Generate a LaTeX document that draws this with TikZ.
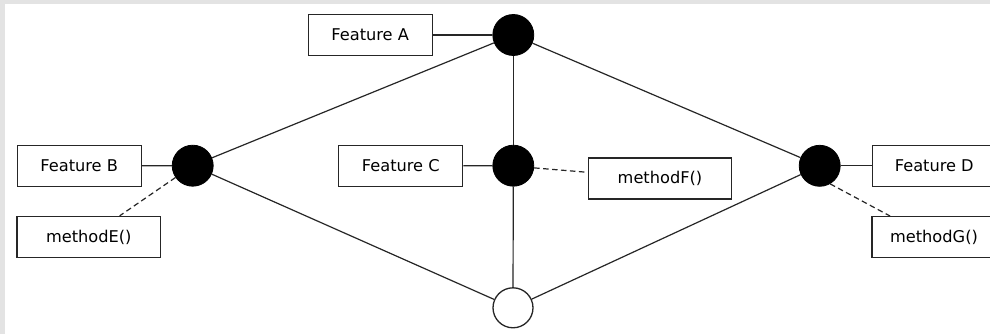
\documentclass[tikz,border=0pt]{standalone}
\usepackage{fontspec}
\setmainfont{DejaVu Sans}
\begin{document}
\begin{tikzpicture}[x=1pt,y=-1pt,
  feat/.style={draw=black!85,line width=1.3pt,fill=white,minimum width=124pt,minimum height=41pt,inner sep=0pt,font=\fontsize{16.2}{18}\selectfont},
  meth/.style={feat,minimum width=143.5pt},
  dot/.style={circle,fill=black,draw=black,line width=0.8pt,minimum size=41pt,inner sep=0pt},
  hole/.style={circle,fill=white,draw=black!85,line width=1.3pt,minimum size=40pt,inner sep=0pt},
  edge/.style={draw=black!85,line width=1.2pt},
  link/.style={edge,dashed,dash pattern=on 5.5pt off 3.5pt}]
% canvas: grey frame on the top and left, white drawing area
\fill[black!11] (0,0) rectangle (990,334);
\fill[white] (5,4) rectangle (990,334);
\useasboundingbox (0,0) rectangle (990,334);
\clip (5,4) rectangle (990,334);
% variation points
\node[dot]  (a) at (513.3,35.0)  {};
\node[dot]  (b) at (192.7,165.7) {};
\node[dot]  (c) at (513.3,165.7) {};
\node[dot]  (d) at (819.7,165.8) {};
\node[hole] (e) at (513.0,307.8) {};
% features and methods
\node[feat] (fa) at (370.2,35.0)  {Feature A};
\node[feat] (fb) at (79.2,165.8)  {Feature B};
\node[feat] (fc) at (400.8,165.8) {Feature C};
\node[feat] (fd) at (934.3,165.8) {Feature D};
\node[meth] (me) at (88.8,237.0)  {methodE()};
\node[meth] (mf) at (660.0,178.5) {methodF()};
\node[feat] (mg) at (934.0,237.0) {methodG()};
\coordinate (mgtop) at (890,216);
% structure
\draw[edge] (a) -- (b);
\draw[edge] (a) -- (c);
\draw[edge] (a) -- (d);
\draw[edge] (b) -- (e);
\draw[edge] (c) -- (e);
\draw[edge] (d) -- (e);
\draw[edge] (fa) -- (a);
\draw[edge] (fb) -- (b);
\draw[edge] (fc) -- (c);
\draw[edge] (d) -- (fd);
% method links
\draw[link] (b) -- (me);
\draw[link] (c.-6) -- (mf.west |- 0,172.3);
\draw[link] (d.-60) -- (mgtop);
\end{tikzpicture}
\end{document}
